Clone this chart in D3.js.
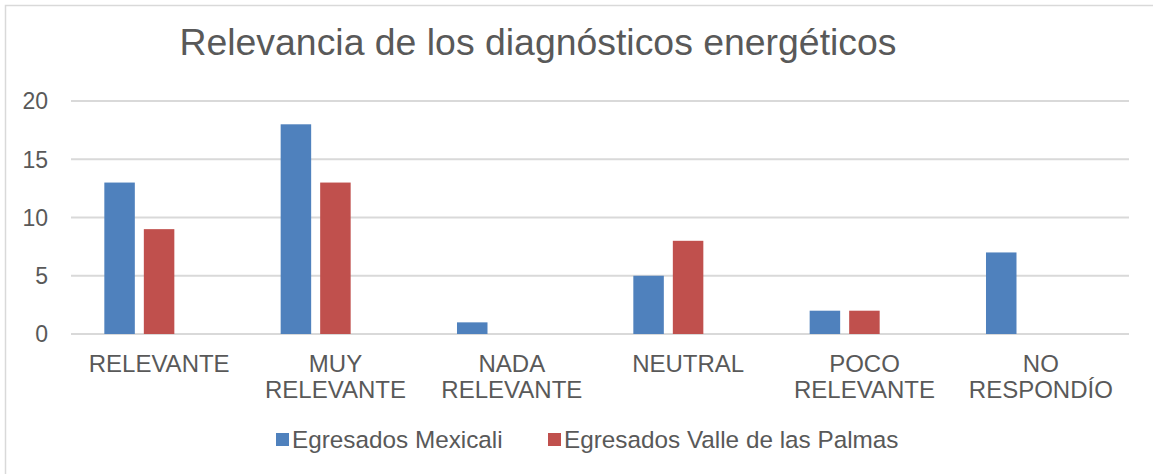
<!DOCTYPE html>
<html>
<head>
  <meta charset="utf-8">
  <title>Relevancia de los diagnósticos energéticos</title>
  <script src="https://cdn.jsdelivr.net/npm/d3@7.0.0/dist/d3.min.js"></script>
  <style>
    body { margin: 0; background: #fff; }
    text { font-family: "Liberation Sans", Arial, sans-serif; fill: #595959; }
  </style>
</head>
<body>
  <div id="chart"></div>

  <script>
    // Data
    var categories = ["RELEVANTE", "MUY RELEVANTE", "NADA RELEVANTE", "NEUTRAL", "POCO RELEVANTE", "NO RESPONDÍO"];
    var seriesNames = ["Egresados Mexicali", "Egresados Valle de las Palmas"];
    var mexicali = [13, 18, 1, 5, 2, 7];
    var vallePalmas = [9, 13, 0, 8, 2, 0];
    var yTicks = [0, 5, 10, 15, 20];
    var colors = ["#4F81BD", "#C0504D"];

    var W = 1153, H = 474;
    var margin = { top: 101, right: 24, bottom: 140, left: 71 };
    var width = W - margin.left - margin.right;
    var height = H - margin.top - margin.bottom;

    var svg = d3.select("#chart").append("svg")
      .attr("width", W)
      .attr("height", H);

    // chart border (runs off the right and bottom edges)
    svg.append("rect")
      .attr("x", 5.5).attr("y", 5.5)
      .attr("width", 1200).attr("height", 500)
      .attr("fill", "none")
      .attr("stroke", "#d9d9d9")
      .attr("stroke-width", 1.5);

    // title
    svg.append("text")
      .attr("x", 538)
      .attr("y", 55)
      .attr("text-anchor", "middle")
      .style("font-size", "37.4px")
      .text("Relevancia de los diagnósticos energéticos");

    var g = svg.append("g")
      .attr("transform", "translate(" + margin.left + "," + margin.top + ")");

    var x0 = d3.scaleBand().domain(categories).range([0, width]);
    var bw = x0.bandwidth();
    // bars sit left of the category centre in the original
    var x1 = d3.scaleBand().domain(seriesNames)
      .range([bw * 0.189, bw * 0.586])
      .paddingInner(0.228);
    var y = d3.scaleLinear().domain([0, 20]).range([height, 0]);

    // gridlines
    g.selectAll(".grid")
      .data(yTicks)
      .enter().append("line")
      .attr("x1", 0).attr("x2", width)
      .attr("y1", function(d) { return y(d); })
      .attr("y2", function(d) { return y(d); })
      .attr("stroke", "#d9d9d9")
      .attr("stroke-width", 2);

    // y labels
    g.selectAll(".ylab")
      .data(yTicks)
      .enter().append("text")
      .attr("x", -23)
      .attr("y", function(d) { return y(d); })
      .attr("dy", "0.36em")
      .attr("text-anchor", "end")
      .style("font-size", "23px")
      .text(function(d) { return d; });

    // bars
    var rows = categories.map(function(c, i) {
      return { cat: c, values: [mexicali[i], vallePalmas[i]] };
    });

    var groups = g.selectAll(".cat")
      .data(rows)
      .enter().append("g")
      .attr("transform", function(d) { return "translate(" + x0(d.cat) + ",0)"; });

    groups.selectAll("rect")
      .data(function(d) { return d.values.map(function(v, j) { return { s: seriesNames[j], v: v, j: j }; }); })
      .enter().append("rect")
      .attr("x", function(d) { return x1(d.s); })
      .attr("y", function(d) { return y(d.v); })
      .attr("width", x1.bandwidth())
      .attr("height", function(d) { return y(0) - y(d.v); })
      .attr("fill", function(d) { return colors[d.j]; });

    // category labels, wrapped on spaces
    var labels = g.selectAll(".xlab")
      .data(categories)
      .enter().append("text")
      .attr("text-anchor", "middle")
      .style("font-size", "24px")
      .attr("transform", function(d) { return "translate(" + (x0(d) + bw / 2) + "," + (height + 38) + ")"; });

    labels.selectAll("tspan")
      .data(function(d) { return d.split(" "); })
      .enter().append("tspan")
      .attr("x", 0)
      .attr("dy", function(d, i) { return i === 0 ? 0 : 26; })
      .text(function(d) { return d; });

    // legend
    var legendX = [276, 548];
    var legend = svg.selectAll(".legend")
      .data(seriesNames)
      .enter().append("g")
      .attr("transform", function(d, i) { return "translate(" + legendX[i] + ",433)"; });

    legend.append("rect")
      .attr("width", 13).attr("height", 13)
      .attr("fill", function(d, i) { return colors[i]; });

    legend.append("text")
      .attr("x", 16)
      .attr("y", 15)
      .style("font-size", "24.3px")
      .text(function(d) { return d; });
  </script>
</body>
</html>
